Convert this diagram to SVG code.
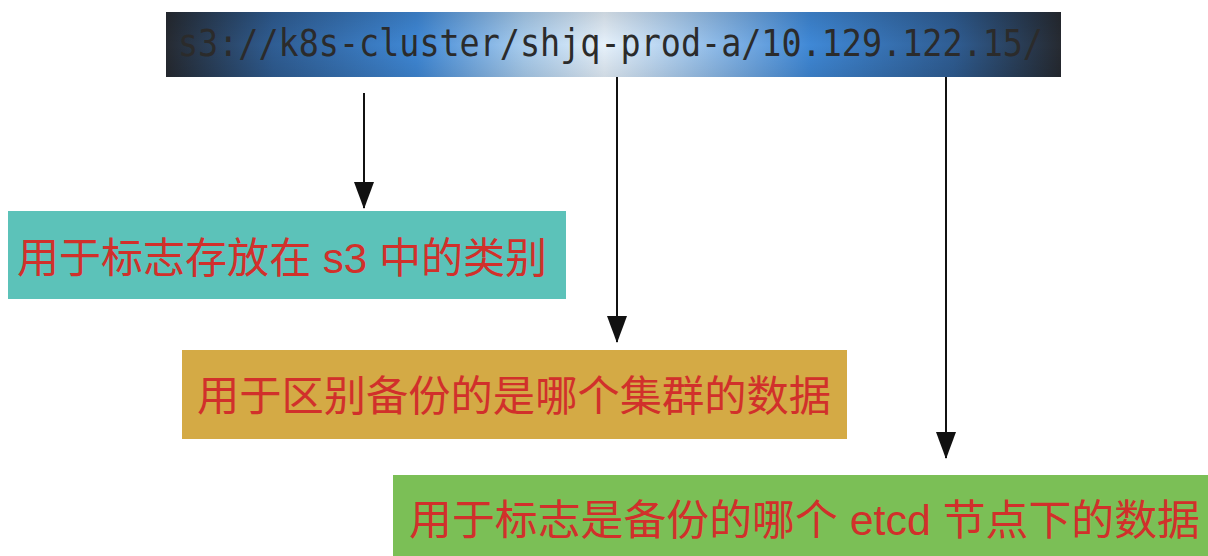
<svg xmlns="http://www.w3.org/2000/svg" width="1208" height="556" viewBox="0 0 1208 556">
  <defs>
    <linearGradient id="barGrad" x1="0" y1="0" x2="1" y2="0">
      <stop offset="0" stop-color="#262a31"/>
      <stop offset="0.12" stop-color="#2f5d93"/>
      <stop offset="0.28" stop-color="#3f88d6"/>
      <stop offset="0.40" stop-color="#a9cdee"/>
      <stop offset="0.49" stop-color="#e6f1fb"/>
      <stop offset="0.58" stop-color="#a6caee"/>
      <stop offset="0.72" stop-color="#3f88d6"/>
      <stop offset="0.88" stop-color="#2f5d93"/>
      <stop offset="1" stop-color="#262a31"/>
    </linearGradient>
    <linearGradient id="barShade" x1="0" y1="0" x2="0" y2="1">
      <stop offset="0" stop-color="#000" stop-opacity="0.12"/>
      <stop offset="0.5" stop-color="#000" stop-opacity="0"/>
      <stop offset="1" stop-color="#000" stop-opacity="0.1"/>
    </linearGradient>
    <marker id="arrow" viewBox="0 0 27 20" refX="26" refY="10" markerWidth="27" markerHeight="20" markerUnits="userSpaceOnUse" orient="auto">
      <path d="M0,0 L27,10 L0,20 Z" fill="#111"/>
    </marker>
    <style>
      .lbl { font-family: "Liberation Sans", "Noto Sans CJK SC", sans-serif; font-size: 42px; fill: #d1302b; }
      .conn { stroke: #111; stroke-width: 2; fill: none; }
    </style>
  </defs>
  <rect width="1208" height="556" fill="#ffffff"/>

  <g id="path-bar">
    <rect x="166" y="12" width="895" height="65" fill="url(#barGrad)"/>
    <rect x="166" y="12" width="895" height="65" fill="url(#barShade)"/>
    <text x="178" y="56" textLength="865" lengthAdjust="spacingAndGlyphs" font-family="'DejaVu Sans Mono', 'Liberation Mono', monospace" font-size="37" fill="#2b2b2b">s3://k8s-cluster/shjq-prod-a/10.129.122.15/</text>
  </g>

  <g id="connectors">
    <line class="conn" x1="364" y1="93" x2="364" y2="208" marker-end="url(#arrow)"/>
    <line class="conn" x1="617" y1="77" x2="617" y2="342" marker-end="url(#arrow)"/>
    <line class="conn" x1="946" y1="77" x2="946" y2="458" marker-end="url(#arrow)"/>
  </g>

  <g id="node-category">
    <rect x="8" y="211" width="558" height="88" fill="#5cc2b9"/>
    <text class="lbl" x="17" y="273" textLength="530" lengthAdjust="spacingAndGlyphs">用于标志存放在 s3 中的类别</text>
  </g>

  <g id="node-cluster">
    <rect x="182" y="350" width="665" height="89" fill="#d4aa45"/>
    <text class="lbl" x="197" y="411" textLength="634" lengthAdjust="spacingAndGlyphs">用于区别备份的是哪个集群的数据</text>
  </g>

  <g id="node-etcd">
    <rect x="393" y="475" width="815" height="81" fill="#7bbf56"/>
    <text class="lbl" x="409" y="535" textLength="791" lengthAdjust="spacingAndGlyphs">用于标志是备份的哪个 etcd 节点下的数据</text>
  </g>
</svg>
